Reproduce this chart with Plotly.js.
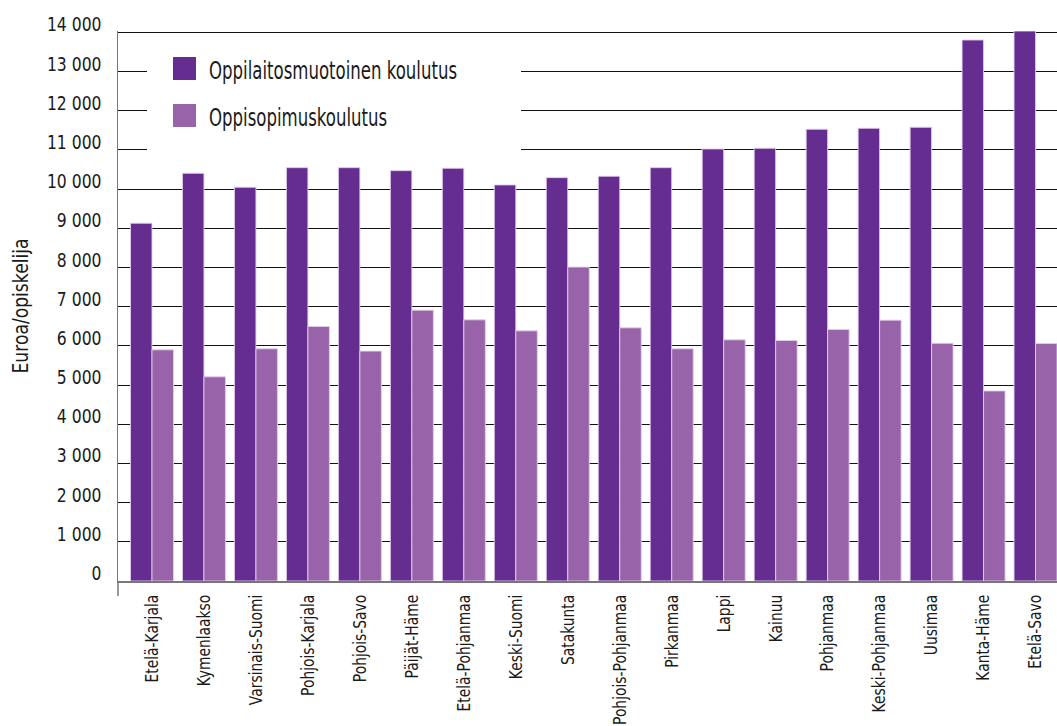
<!DOCTYPE html>
<html>
<head>
<meta charset="utf-8">
<script src="https://cdn.plot.ly/plotly-3.0.1.min.js"></script>
<style>
html,body{margin:0;padding:0;background:#fff;}
#chart{width:1057px;height:726px;}
</style>
</head>
<body>
<div id="chart"></div>
<script>
// ---- data ----
const regions = ["Etelä-Karjala","Kymenlaakso","Varsinais-Suomi","Pohjois-Karjala","Pohjois-Savo","Päijät-Häme","Etelä-Pohjanmaa","Keski-Suomi","Satakunta","Pohjois-Pohjanmaa","Pirkanmaa","Lappi","Kainuu","Pohjanmaa","Keski-Pohjanmaa","Uusimaa","Kanta-Häme","Etelä-Savo"];
const oppilaitos = [9130,10405,10048,10548,10548,10472,10533,10107,10293,10329,10548,11025,11043,11528,11553,11579,13805,14035];
const oppisopimus = [5899,5210,5925,6494,5866,6911,6664,6383,8008,6460,5925,6154,6136,6420,6657,6066,4850,6060];
const seriesNames = ["Oppilaitosmuotoinen koulutus","Oppisopimuskoulutus"];
const yTickVals = [0,1000,2000,3000,4000,5000,6000,7000,8000,9000,10000,11000,12000,13000,14000];
const yTickText = ["0","1 000","2 000","3 000","4 000","5 000","6 000","7 000","8 000","9 000","10 000","11 000","12 000","13 000","14 000"];
const yTitle = "Euroa/opiskelija";

// ---- style ----
const FAM = "'DejaVu Sans',sans-serif";
const mkFont = (size) => ({family: FAM, size: size, color: "#1a1a1a"});
const DARK = "#652d90";
const LIGHT = "#9863a9";
const W = 1057, H = 726;
const M = {l:118, r:0, t:31, b:145};
const plotW = W - M.l - M.r, plotH = H - M.t - M.b;
const px2x = p => (p - M.l) / plotW;
const px2y = p => (H - M.b - p) / plotH;

const traces = [
  {type:"bar", name:seriesNames[0], x:regions, y:oppilaitos,
   marker:{color:DARK, line:{color:"rgba(225,205,235,0.9)", width:1}}, hoverinfo:"x+y"},
  {type:"bar", name:seriesNames[1], x:regions, y:oppisopimus,
   marker:{color:LIGHT, line:{color:"rgba(225,205,235,0.9)", width:1}}, hoverinfo:"x+y"}
];

const xRange = [-0.654, regions.length - 1 + 0.413];
const boundaries = regions.slice(1).map((_, i) => i + 0.5);

const layout = {
  width: W, height: H,
  margin: M,
  paper_bgcolor: "#fff", plot_bgcolor: "#fff",
  showlegend: false,
  barmode: "group", bargap: 0.173, bargroupgap: 0,
  font: mkFont(16),
  xaxis: {
    type: "category", range: xRange, fixedrange: true,
    showline: true, linecolor: "#777", linewidth: 1.5,
    showgrid: false, ticks: "", tickangle: -90,
    ticklabelstandoff: 5,
    tickfont: mkFont(18)
  },
  xaxis2: {
    type: "linear", overlaying: "x", anchor: "y", side: "bottom",
    range: xRange, fixedrange: true,
    tickmode: "array", tickvals: boundaries,
    ticks: "outside", ticklen: 15, tickcolor: "#777", tickwidth: 1.5,
    showticklabels: false, showline: false, showgrid: false, zeroline: false
  },
  yaxis: {
    range: [0, 14035], fixedrange: true,
    tickmode: "array", tickvals: yTickVals, ticktext: yTickText,
    showline: true, linecolor: "#777", linewidth: 1.5,
    showgrid: true, gridcolor: "#111", gridwidth: 1,
    zeroline: false, ticks: "",
    ticklabelstandoff: 11, ticklabelshift: -8,
    tickfont: mkFont(20),
    title: {text: yTitle, standoff: 4, font: mkFont(22)}
  },
  shapes: [
    {type:"rect", xref:"paper", yref:"paper", x0:px2x(147), x1:px2x(521), y0:px2y(158), y1:px2y(40),
     fillcolor:"#fff", line:{width:0}, layer:"above"},
    {type:"rect", xref:"paper", yref:"paper", x0:px2x(173), x1:px2x(196), y0:px2y(80), y1:px2y(57),
     fillcolor:DARK, line:{width:0}, layer:"above"},
    {type:"rect", xref:"paper", yref:"paper", x0:px2x(173), x1:px2x(196), y0:px2y(127), y1:px2y(104),
     fillcolor:LIGHT, line:{width:0}, layer:"above"},
    {type:"line", xref:"paper", yref:"paper", x0:0, x1:0, y0:0, y1:px2y(H - M.b + 15),
     line:{color:"#777", width:1.5}}
  ],
  annotations: [
    {xref:"paper", yref:"paper", x:px2x(207), y:px2y(71), text:seriesNames[0], showarrow:false,
     xanchor:"left", yanchor:"middle", font:mkFont(24)},
    {xref:"paper", yref:"paper", x:px2x(207), y:px2y(118), text:seriesNames[1], showarrow:false,
     xanchor:"left", yanchor:"middle", font:mkFont(24)}
  ]
};

// narrow the glyphs (the reference uses a condensed typeface)
function condenseEl(t, factor, keepLeft) {
  const tspans = t.querySelectorAll("tspan");
  const targets = tspans.length ? Array.from(tspans) : [t];
  const b0 = t.getBBox();
  targets.forEach(el => {
    const len = el.getComputedTextLength();
    if (!len) return;
    el.setAttribute("textLength", (len * factor).toFixed(2));
    el.setAttribute("lengthAdjust", "spacingAndGlyphs");
  });
  if (keepLeft) {
    const b1 = t.getBBox();
    const dx = b0.x - b1.x;
    targets.forEach(el => {
      if (el.hasAttribute("x")) el.setAttribute("x", (parseFloat(el.getAttribute("x")) + dx).toFixed(2));
    });
    if (targets[0] !== t && t.hasAttribute("x")) t.setAttribute("x", (parseFloat(t.getAttribute("x")) + dx).toFixed(2));
  }
}
function condense(root, selector, factor, keepLeft) {
  root.querySelectorAll(selector).forEach(t => condenseEl(t, factor, keepLeft));
}

Plotly.newPlot("chart", traces, layout, {displayModeBar:false, staticPlot:true}).then(gd => {
  condense(gd, ".xtick text", 0.77, false);
  condense(gd, ".ytick text", 0.78, false);
  condense(gd, ".ytitle", 0.78, false);
  condense(gd, ".annotation-text", 0.69, true);
  const yt = gd.querySelector(".g-ytitle");
  if (yt) yt.setAttribute("transform", "translate(7,0)");
});
</script>
</body>
</html>
